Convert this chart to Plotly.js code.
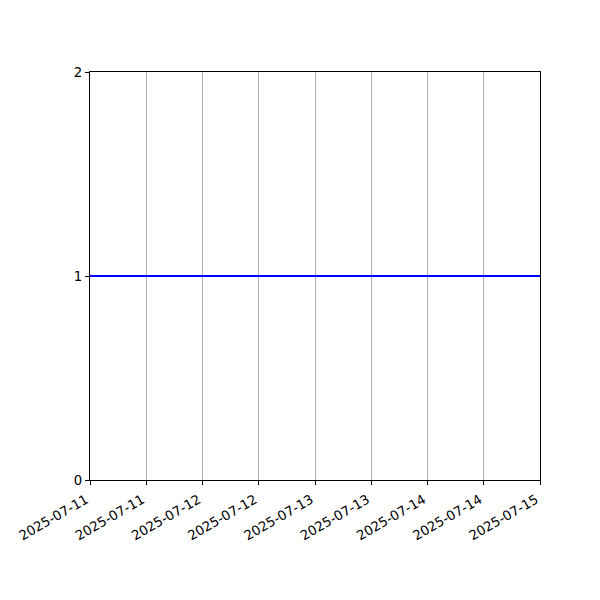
<!DOCTYPE html>
<html>
<head>
<meta charset="utf-8">
<script src="https://cdn.plot.ly/plotly-3.0.1.min.js"></script>
<style>html,body{margin:0;padding:0;background:#fff;}#chart{width:600px;height:600px;}</style>
</head>
<body>
<div id="chart"></div>
<script>
const dates = ["2025-07-11 00:00", "2025-07-12 00:00", "2025-07-13 00:00", "2025-07-14 00:00", "2025-07-15 00:00"];
const values = [1, 1, 1, 1, 1];
const tickVals = ["2025-07-11 00:00", "2025-07-11 12:00", "2025-07-12 00:00", "2025-07-12 12:00", "2025-07-13 00:00", "2025-07-13 12:00", "2025-07-14 00:00", "2025-07-14 12:00", "2025-07-15 00:00"];
const tickText = ["2025-07-11", "2025-07-11", "2025-07-12", "2025-07-12", "2025-07-13", "2025-07-13", "2025-07-14", "2025-07-14", "2025-07-15"];
const yTicks = [0, 1, 2];

const trace = {
  x: dates, y: values, type: "scatter", mode: "lines",
  line: {color: "#0000ff", width: 2}, hoverinfo: "skip"
};

const layout = {
  width: 600, height: 600,
  margin: {l: 90, r: 60, t: 72, b: 120},
  paper_bgcolor: "#ffffff", plot_bgcolor: "#ffffff",
  font: {family: "DejaVu Sans", size: 13.3, color: "#000"},
  showlegend: false,
  xaxis: {
    type: "date", range: [dates[0], dates[dates.length - 1]],
    tickmode: "array", tickvals: tickVals, ticktext: tickText,
    tickangle: -30, ticks: "outside", ticklen: 4, tickcolor: "#000",
    ticklabelshift: -4, ticklabelstandoff: 2,
    showgrid: true, gridcolor: "#b0b0b0", gridwidth: 1,
    showline: true, linecolor: "#000", linewidth: 1, mirror: true,
    zeroline: false, tickfont: {family: "DejaVu Sans", size: 13.3}
  },
  yaxis: {
    range: [0, 2], tickmode: "array", tickvals: yTicks,
    ticks: "outside", ticklen: 4, tickcolor: "#000",
    showgrid: false, showline: true, linecolor: "#000", linewidth: 1, mirror: true,
    zeroline: false, tickfont: {family: "DejaVu Sans", size: 13.3}
  }
};

Plotly.newPlot("chart", [trace], layout, {staticPlot: true, displayModeBar: false});
</script>
</body>
</html>
